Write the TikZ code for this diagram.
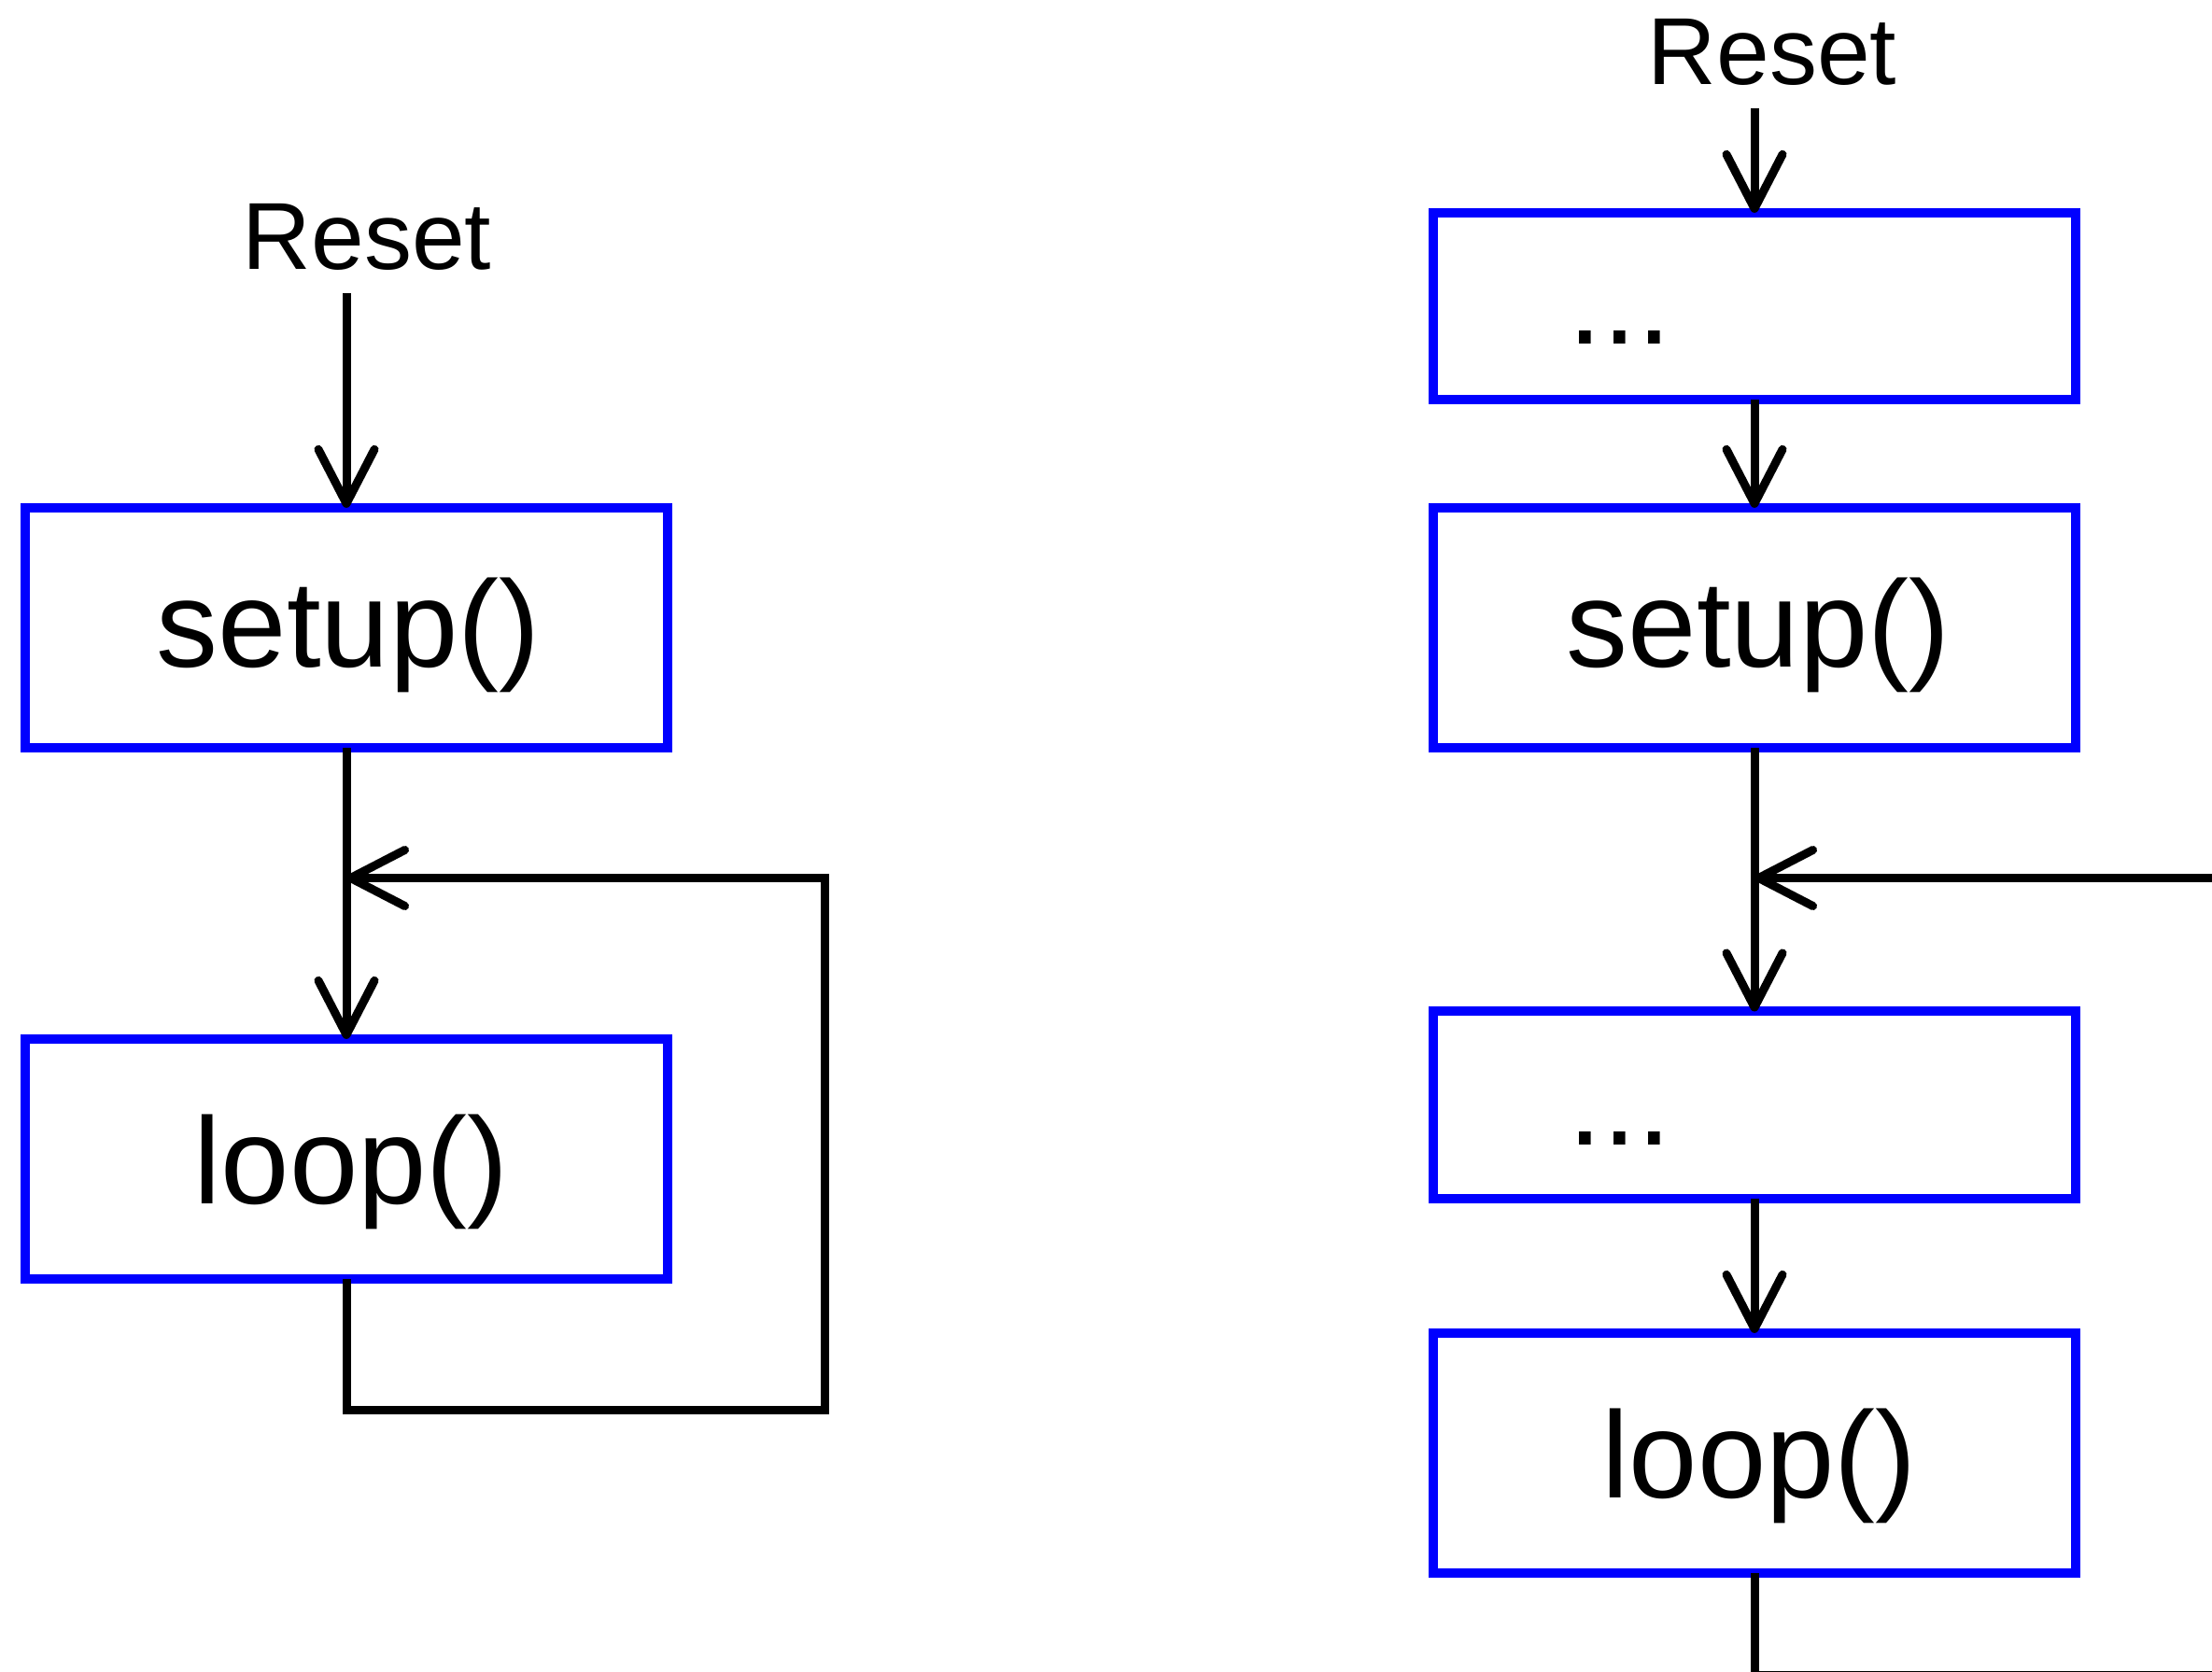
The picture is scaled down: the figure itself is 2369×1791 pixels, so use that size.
\documentclass[tikz,border=0pt]{standalone}
\usepackage{fontspec}
\setmainfont{Liberation Sans}
\usetikzlibrary{arrows.meta}
\tikzset{
  blk/.style={rectangle, draw=blue, line width=0.1cm, minimum width=6.87cm, minimum height=2.57cm, inner sep=0pt, outer sep=0pt},
  dotblk/.style={blk, minimum height=2.0cm},
  lbl/.style={inner sep=0pt, anchor=base, font=\fontsize{37.5pt}{40pt}\selectfont},
  rst/.style={inner sep=0pt, anchor=base, font=\fontsize{29pt}{32pt}\selectfont},
  wire/.style={line width=0.09cm, draw=black},
  arr/.style={wire, -{Straight Barb[length=0.58cm, width=0.6cm, round]}},
}
\begin{document}
\begin{tikzpicture}[x=0.01cm, y=-0.01cm]
\useasboundingbox (0,0) rectangle (2369,1791);
\clip (0,0) rectangle (2369,1791);
% ---------- left diagram ----------
\node[rst] (resetL) at (393,288) {Reset};
\coordinate (startL) at (371,314);
\node[blk] (setupL) at (371,672.5) {};
\node[lbl] (setupLt) at (373,714) {setup()};
\node[blk] (loopL) at (371,1241.5) {};
\node[lbl] (loopLt) at (376,1289) {loop()};
\coordinate (jL) at (371,940.5);
\coordinate (c1L) at (371,1510);
\coordinate (c2L) at (883,1510);
\coordinate (c3L) at (883,940.5);
\draw[arr] (startL) -- (setupL.north);
\draw[arr] (setupL.south) -- (loopL.north);
\draw[arr] (loopL.south) -- (c1L) -- (c2L) -- (c3L) -- (jL);
% ---------- right diagram ----------
\node[rst] (resetR) at (1898,91) {Reset};
\coordinate (startR) at (1879,116);
\node[dotblk] (dotsA) at (1879,328) {};
\node[lbl, anchor=base west] (dotsAt) at (1679,369) {...};
\node[blk] (setupR) at (1879,672.5) {};
\node[lbl] (setupRt) at (1883,714) {setup()};
\node[dotblk] (dotsB) at (1879,1183.5) {};
\node[lbl, anchor=base west] (dotsBt) at (1679,1226) {...};
\node[blk] (loopR) at (1879,1556.5) {};
\node[lbl] (loopRt) at (1884,1604) {loop()};
\coordinate (jR) at (1879,940.5);
\coordinate (eR) at (2420,940.5);
\coordinate (bR) at (1879,1794.5);
\coordinate (bR2) at (2420,1794.5);
\draw[arr] (startR) -- (dotsA.north);
\draw[arr] (dotsA.south) -- (setupR.north);
\draw[arr] (setupR.south) -- (dotsB.north);
\draw[arr] (eR) -- (jR);
\draw[arr] (dotsB.south) -- (loopR.north);
\draw[wire] (loopR.south) -- (bR) -- (bR2);
\end{tikzpicture}
\end{document}
